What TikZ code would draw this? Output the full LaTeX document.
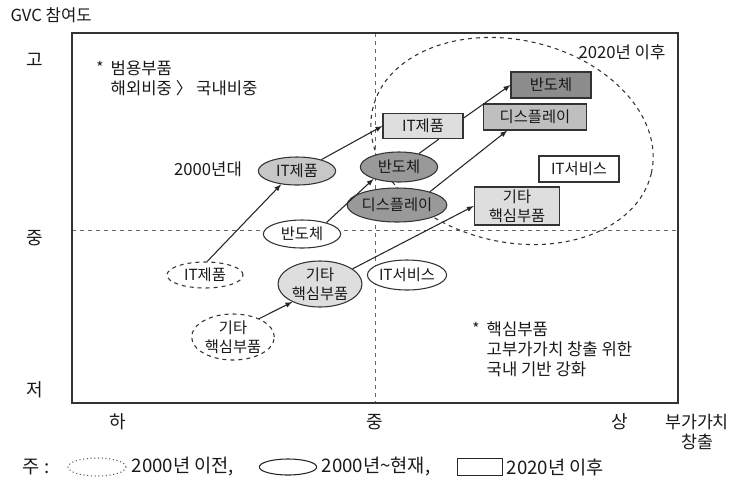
\documentclass[tikz,border=0pt]{standalone}
\usepackage{fontspec}
\setmainfont{Noto Sans CJK KR}
\usetikzlibrary{shapes.geometric}
\tikzset{
  old/.style={ellipse, draw=black!80, dashed, thick, fill=white, inner sep=0pt, align=center},
  now/.style={ellipse, draw=black!80, thick, inner sep=0pt, align=center},
  new/.style={rectangle, draw=black!80, thick, inner sep=0pt, align=center},
  arr/.style={-latex, line width=0.8pt, draw=black!85},
  lbl/.style={font=\fontsize{12.5}{15}\selectfont},
  axis/.style={font=\fontsize{13.5}{16}\selectfont},
  leg/.style={font=\fontsize{14}{16}\selectfont},
}
\begin{document}
\begin{tikzpicture}[x=0.75pt, y=-0.75pt, font=\fontsize{11.5}{14}\selectfont, text=black!90]
\useasboundingbox (0,0) rectangle (733,487);
% guides and frame
\draw[dashed, black!60] (72,230) -- (678,230);
\draw[dashed, black!60] (375,33) -- (375,403);
\draw[line width=1.1pt, black!80] (72,33) rectangle (678,403);
\draw[dashed, thick, black!80, rotate around={-13:(512,141)}] (512,141) ellipse [x radius=143, y radius=101];
\node[lbl] (zone) at (622,52) {2020년 이후};
% axes
\node[lbl, anchor=west] (gvc) at (6,15) {GVC 참여도};
\node[axis] (yHigh) at (35,60) {고};
\node[axis] (yMid) at (35,238) {중};
\node[axis] (yLow) at (35,390) {저};
\node[axis] (xLow) at (118,422) {하};
\node[axis] (xMid) at (375,422) {중};
\node[axis] (xHigh) at (620,422) {상};
\node[axis, align=center, font=\fontsize{13}{15}\selectfont] (xName) at (697,432) {부가가치\\창출};
% notes
\node (starA) at (100,67) {*};
\node[lbl, anchor=north west, align=left] (noteA) at (106,56) {범용부품\\해외비중 〉 국내비중};
\node (starB) at (476,328) {*};
\node[lbl, anchor=north west, align=left] (noteB) at (482,317) {핵심부품\\고부가가치 창출 위한\\국내 기반 강화};
\node[lbl] (era) at (208,169) {2000년대};
% before 2000
\node[old, minimum width=57pt, minimum height=19.5pt] (itOld) at (205,275) {IT제품};
\node[old, minimum width=62pt, minimum height=32pt] (etcOld) at (233,337) {기타\\핵심부품};
% 2000 - now
\node[now, fill=black!22, minimum width=58pt, minimum height=21pt] (itNow) at (297,171) {IT제품};
\node[now, fill=white, minimum width=58pt, minimum height=21pt] (semiNow) at (302,234) {반도체};
\node[now, fill=black!13, minimum width=63pt, minimum height=31.5pt] (etcNow) at (320,284) {기타\\핵심부품};
\node[now, fill=white, minimum width=58.5pt, minimum height=22.5pt] (svcNow) at (407,275) {IT서비스};
\node[now, fill=black!40, minimum width=58pt, minimum height=22.5pt] (semiTop) at (399,167) {반도체};
\node[now, fill=black!40, minimum width=67pt, minimum height=25.5pt] (dispNow) at (397,205) {디스플레이};
% after 2020
\node[new, fill=black!13, minimum width=60pt, minimum height=19pt] (itNew) at (423,126) {IT제품};
\node[new, fill=black!45, minimum width=60pt, minimum height=19.5pt] (semiNew) at (551,85) {반도체};
\node[new, fill=black!25, minimum width=77pt, minimum height=19.5pt] (dispNew) at (535,117) {디스플레이};
\node[new, fill=white, minimum width=60pt, minimum height=19.5pt] (svcNew) at (579,169) {IT서비스};
\node[new, fill=black!13, minimum width=64pt, minimum height=28.5pt] (etcNew) at (517,206) {기타\\핵심부품};
% paths
\draw[arr] (itOld.81) -- (itNow.220);
\draw[arr] (itNow.25) -- (itNew.west);
\draw[arr] (itNew.11) -- (semiNew.west);
\draw[arr] (semiNow.25) -- (semiTop.205);
\draw[line width=0.8pt, black!85] (semiTop.34) -- (itNew.-40);
\draw[arr] (dispNow.22) -- (dispNew.206);
\draw[arr] (etcNow.25) -- (etcNew.west);
\draw[arr] (etcOld.35) -- (etcNow.213);
% legend
\node[leg, anchor=west] (legTitle) at (18,467) {주 :};
\node[ellipse, draw=black!65, dotted, thick, minimum width=43.5pt, minimum height=13.5pt] (legOld) at (97,467) {};
\node[leg, anchor=west] (legOldTxt) at (127,467) {2000년 이전,};
\node[ellipse, draw=black!85, thick, minimum width=43pt, minimum height=12pt] (legNow) at (288,467) {};
\node[leg, anchor=west] (legNowTxt) at (317,467) {2000년\textasciitilde 현재,};
\node[draw=black!85, thick, minimum width=34pt, minimum height=13pt, inner sep=0pt] (legNew) at (480,467) {};
\node[leg, anchor=west] (legNewTxt) at (502,467) {2020년 이후};
\end{tikzpicture}
\end{document}
